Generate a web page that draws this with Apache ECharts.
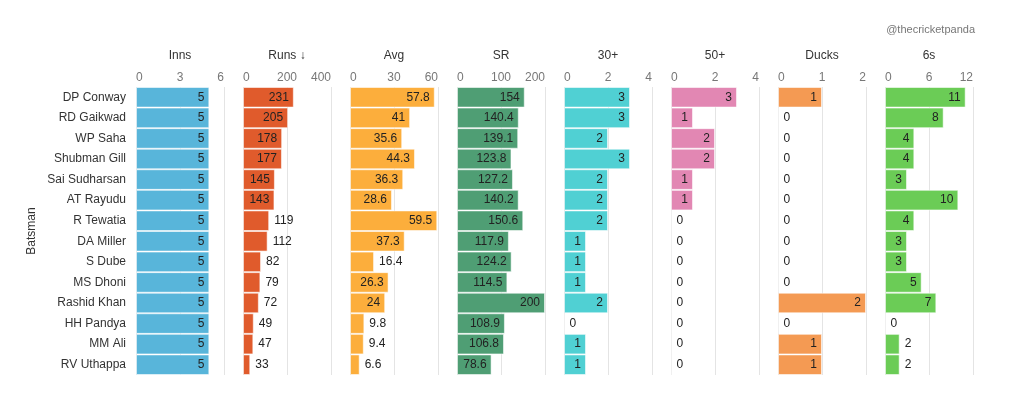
<!DOCTYPE html>
<html>
<head>
<meta charset="utf-8">
<script src="https://cdn.jsdelivr.net/npm/echarts@6/dist/echarts.min.js"></script>
<style>html,body{margin:0;padding:0;background:#fff}#c{width:1010px;height:398px}</style>
</head>
<body>
<div id="c"></div>
<script>
var batsmen = ['DP Conway','RD Gaikwad','WP Saha','Shubman Gill','Sai Sudharsan','AT Rayudu','R Tewatia','DA Miller','S Dube','MS Dhoni','Rashid Khan','HH Pandya','MM Ali','RV Uthappa'];
var inns = [5,5,5,5,5,5,5,5,5,5,5,5,5,5];
var runs = [231,205,178,177,145,143,119,112,82,79,72,49,47,33];
var avg = [57.8,41,35.6,44.3,36.3,28.6,59.5,37.3,16.4,26.3,24,9.8,9.4,6.6];
var sr = [154,140.4,139.1,123.8,127.2,140.2,150.6,117.9,124.2,114.5,200,108.9,106.8,78.6];
var thirties = [3,3,2,3,2,2,2,1,1,1,2,0,1,1];
var fifties = [3,1,2,2,1,1,0,0,0,0,0,0,0,0];
var ducks = [1,0,0,0,0,0,0,0,0,0,2,0,1,1];
var sixes = [11,8,4,4,3,10,4,3,3,5,7,0,2,2];

var panelTitles = ['Inns','Runs \u2193','Avg','SR','30+','50+','Ducks','6s'];
var axisMax = [6,400,60,200,4,4,2,12];
var axisInterval = [3,200,30,100,2,2,1,6];
var panelData = [inns,runs,avg,sr,thirties,fifties,ducks,sixes];
var colors = ['#58b5da','#e05b2c','#fcae3c','#4f9e74','#50d0d3','#e287b3','#f49a53','#6bcc56'];

var FONT = '"Liberation Sans", Arial, sans-serif';
var GRID_W = 88, GRID_TOP = 87, GRID_H = 288;
var ctx = document.createElement('canvas').getContext('2d');
ctx.font = '12px ' + FONT;

var grids = [], xAxes = [], yAxes = [], series = [];
for (var i = 0; i < 8; i++) {
  var left = 136 + 107 * i;
  grids.push({left: left, top: GRID_TOP, width: GRID_W, height: GRID_H});
  xAxes.push({
    type: 'value', gridIndex: i, position: 'top', min: 0, max: axisMax[i], interval: axisInterval[i],
    name: panelTitles[i], nameLocation: 'middle', nameGap: 25,
    nameTextStyle: {color: '#333', fontSize: 12, fontFamily: FONT},
    axisLine: {show: false}, axisTick: {show: false},
    axisLabel: {color: '#777', fontSize: 12, fontFamily: FONT, margin: 3, alignMinLabel: 'left', alignMaxLabel: 'right'},
    splitLine: {show: true, lineStyle: {color: '#e4e4e4', width: 1}}
  });
  yAxes.push({
    type: 'category', gridIndex: i, data: batsmen, inverse: true,
    axisLine: {show: false}, axisTick: {show: false},
    axisLabel: {show: i === 0, color: '#333', fontSize: 12, fontFamily: FONT, margin: 10},
    name: i === 0 ? 'Batsman' : '', nameLocation: 'middle', nameGap: 98,
    nameTextStyle: {color: '#333', fontSize: 12, fontFamily: FONT}
  });
  var vals = panelData[i];
  var items = vals.map(function (v) {
    var txt = String(v);
    var w = ctx.measureText(txt).width;
    var px = v / axisMax[i] * GRID_W;
    var inside = px >= w + 10;
    return {value: v, label: {position: inside ? 'insideRight' : 'right', distance: 5}};
  });
  series.push({
    type: 'bar', xAxisIndex: i, yAxisIndex: i, data: items,
    barCategoryGap: 0,
    itemStyle: {color: colors[i], borderColor: 'rgba(255,255,255,0.55)', borderWidth: 1},
    label: {show: true, color: '#222', fontSize: 12, fontFamily: FONT},
    emphasis: {disabled: true}, animation: false
  });
}

var chart = echarts.init(document.getElementById('c'), null, {renderer: 'canvas'});
chart.setOption({
  backgroundColor: '#fff',
  animation: false,
  grid: grids, xAxis: xAxes, yAxis: yAxes, series: series,
  graphic: [{
    type: 'text', right: 35, top: 24,
    style: {text: '@thecricketpanda', fill: '#777', font: '11px ' + FONT}
  }]
});
</script>
</body>
</html>
